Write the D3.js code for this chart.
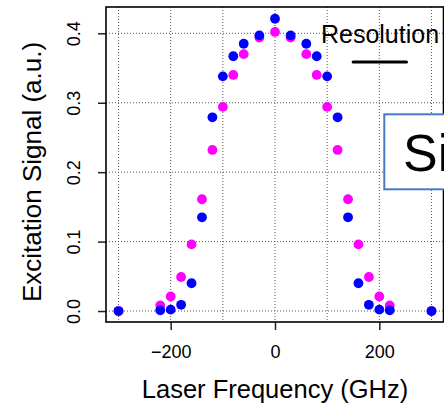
<!DOCTYPE html>
<html>
<head>
<meta charset="utf-8">
<script src="https://cdn.jsdelivr.net/npm/d3@7"></script>
<style>
  html, body { margin: 0; padding: 0; background: #fff; }
  svg { display: block; font-family: "Liberation Sans", Arial, Helvetica, sans-serif; }
</style>
</head>
<body>
<svg id="chart" width="444" height="404"></svg>
<script>
// ---- data ----
const freqs = [-300, -220, -200, -180, -160, -140, -120, -100, -80, -60, -30, 0, 30, 60, 80, 100, 120, 140, 160, 180, 200, 220, 300];
const blueSignal = [0.000, 0.001, 0.002, 0.009, 0.040, 0.135, 0.279, 0.338, 0.367, 0.385, 0.397, 0.421, 0.397, 0.385, 0.367, 0.338, 0.279, 0.135, 0.040, 0.009, 0.002, 0.001, 0.000];
const magentaSignal = [0.000, 0.008, 0.021, 0.049, 0.096, 0.161, 0.232, 0.294, 0.340, 0.370, 0.394, 0.402, 0.394, 0.370, 0.340, 0.294, 0.232, 0.161, 0.096, 0.049, 0.021, 0.008, 0.000];
const xTicks = [-200, 0, 200];
const yTicks = [0.0, 0.1, 0.2, 0.3, 0.4];
const xGrid = [-300, -200, -100, 0, 100, 200, 300];
const yGrid = [0.0, 0.1, 0.2, 0.3, 0.4];
const resolutionBar = [150, 252];
const resolutionY = 0.4;

// ---- layout ----
const svg = d3.select("#chart");
const L = 106, R = 443.5, T = 7, B = 322;
const x = d3.scaleLinear().domain([-324, 324]).range([L, 444]);
const y = d3.scaleLinear().domain([-0.0158, 0.4379]).range([B, T]);

// grid
const grid = svg.append("g").attr("stroke", "#555").attr("stroke-width", 1).attr("stroke-dasharray", "1,2");
grid.selectAll("line.v").data(xGrid).join("line").attr("class", "v")
  .attr("x1", d => x(d)).attr("x2", d => x(d)).attr("y1", T).attr("y2", B);
grid.selectAll("line.h").data(yGrid).join("line").attr("class", "h")
  .attr("x1", L).attr("x2", R).attr("y1", d => y(d)).attr("y2", d => y(d));

// axes
const xAxis = d3.axisBottom(x).tickValues(xTicks).tickSize(8).tickPadding(6).tickFormat(d3.format("d"));
const gx = svg.append("g").attr("transform", `translate(0,${B})`).call(xAxis);
gx.select(".domain").remove();
gx.selectAll(".tick line").attr("stroke", "#222").attr("stroke-width", 1.5);
gx.selectAll(".tick text").attr("font-size", 18).attr("fill", "#000")
  .attr("dy", null).attr("y", 36);

const yAxis = d3.axisLeft(y).tickValues(yTicks).tickSize(8).tickFormat(d3.format(".1f"));
const gy = svg.append("g").attr("transform", `translate(${L},0)`).call(yAxis);
gy.select(".domain").remove();
gy.selectAll(".tick line").attr("stroke", "#222").attr("stroke-width", 1.5);
gy.selectAll(".tick text").attr("font-size", 18).attr("fill", "#000")
  .attr("x", null).attr("dy", null).attr("text-anchor", "middle")
  .attr("transform", `translate(${79.5 - L},0) rotate(-90)`);

// frame
svg.append("rect").attr("x", L).attr("y", T).attr("width", R - L).attr("height", B - T)
  .attr("fill", "none").attr("stroke", "#000").attr("stroke-width", 1.6);

// points
svg.append("g").selectAll("circle").data(freqs.map((f, i) => [f, magentaSignal[i]])).join("circle")
  .attr("cx", d => x(d[0])).attr("cy", d => y(d[1])).attr("r", 4.9).attr("fill", "#ff00ff");
svg.append("g").selectAll("circle").data(freqs.map((f, i) => [f, blueSignal[i]])).join("circle")
  .attr("cx", d => x(d[0])).attr("cy", d => y(d[1])).attr("r", 4.9).attr("fill", "#0000ff");

// resolution annotation
svg.append("text").attr("x", 380).attr("y", 42.5).attr("text-anchor", "middle")
  .attr("font-size", 25).attr("fill", "#000").text("Resolution");
svg.append("line").attr("x1", x(resolutionBar[0])).attr("x2", x(resolutionBar[1]))
  .attr("y1", 62).attr("y2", 62)
  .attr("stroke", "#000").attr("stroke-width", 3.2).attr("stroke-linecap", "round");

// Si box
svg.append("rect").attr("x", 384.3).attr("y", 114.3).attr("width", 80).attr("height", 75)
  .attr("fill", "#fff").attr("stroke", "#4a78c8").attr("stroke-width", 2);
svg.append("text").attr("x", 403).attr("y", 170.5).attr("font-size", 52).attr("fill", "#000").text("Si");

// axis titles
svg.append("text").attr("x", 275).attr("y", 397.5).attr("text-anchor", "middle")
  .attr("font-size", 25.5).attr("fill", "#000").text("Laser Frequency (GHz)");
svg.append("text").attr("transform", "translate(41,172) rotate(-90)").attr("text-anchor", "middle")
  .attr("font-size", 26).attr("fill", "#000").text("Excitation Signal (a.u.)");
</script>
</body>
</html>
